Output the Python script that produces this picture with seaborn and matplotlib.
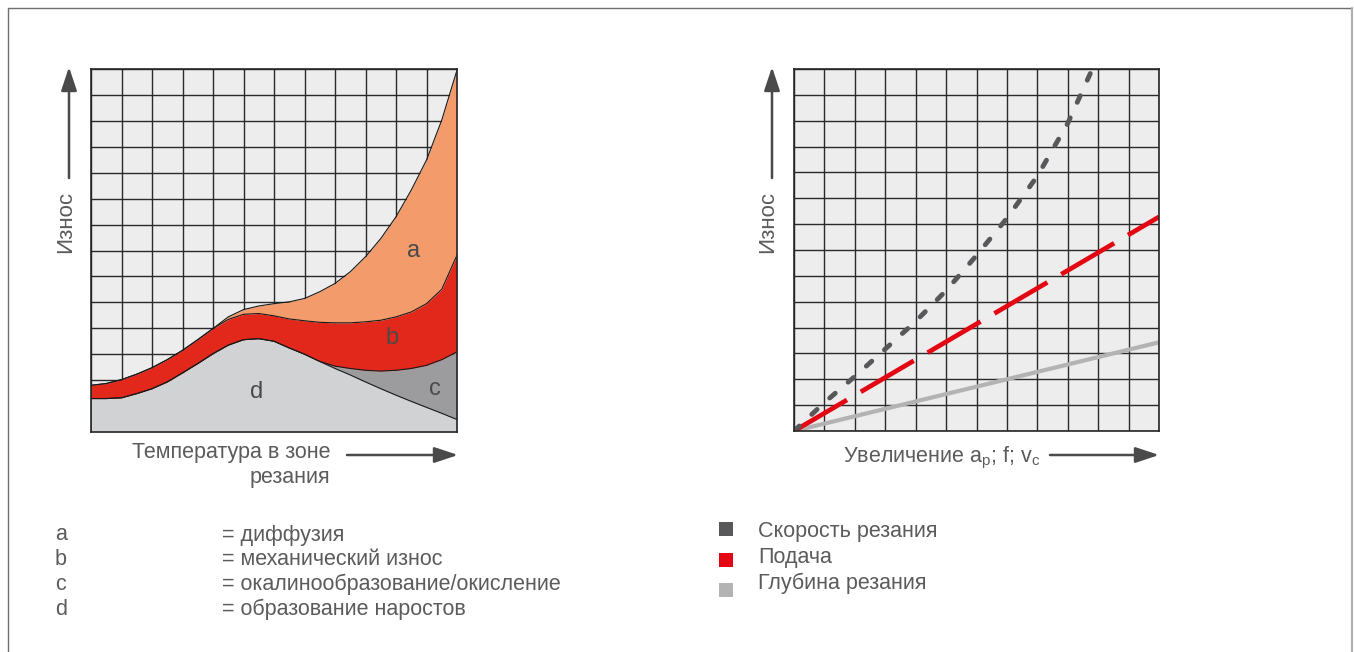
import numpy as np
import pandas as pd
import matplotlib
matplotlib.use("Agg")
import matplotlib.pyplot as plt
from matplotlib.lines import Line2D
import seaborn as sns

# ---------------- data ----------------
# Left chart: temperature (grid units) and boundary heights of stacked wear zones
temp = [0, 0.5, 1, 1.5, 2, 2.5, 3, 3.5, 4, 4.5, 5, 5.5, 6, 6.5, 7, 7.5, 8,
        8.5, 9, 9.5, 10, 10.5, 11, 11.5, 12]
d_top = [1.29, 1.29, 1.32, 1.48, 1.67, 1.93, 2.28, 2.64, 3.02, 3.35, 3.56, 3.60,
         3.50, 3.24, 3.00, 2.72, 2.45, 2.20, 1.93, 1.67, 1.42, 1.18, 0.95, 0.72, 0.48]
c_top = [1.29, 1.29, 1.32, 1.48, 1.67, 1.93, 2.28, 2.64, 3.02, 3.35, 3.56, 3.60,
         3.50, 3.24, 3.00, 2.72, 2.54, 2.45, 2.38, 2.35, 2.38, 2.45, 2.57, 2.79, 3.09]
b_top = [1.80, 1.87, 2.02, 2.23, 2.48, 2.79, 3.15, 3.56, 3.99, 4.34, 4.54, 4.57,
         4.48, 4.36, 4.29, 4.23, 4.21, 4.21, 4.25, 4.31, 4.44, 4.63, 4.95, 5.50, 6.82]
a_top = [1.80, 1.87, 2.02, 2.23, 2.48, 2.79, 3.15, 3.56, 3.99, 4.44, 4.72, 4.86,
         4.95, 5.02, 5.15, 5.41, 5.73, 6.18, 6.76, 7.46, 8.30, 9.33, 10.49, 12.03, 13.96]
zone_labels = ["a", "b", "c", "d"]
zone_names = ["= диффузия", "= механический износ",
              "= окалинообразование/окисление", "= образование наростов"]

# Right chart: wear vs increase of a_p, f, v_c
speed_x = [0, 1, 2, 3, 4, 5, 6, 7, 8, 9, 9.75]
speed_y = [0, 1.10, 2.11, 3.17, 4.24, 5.43, 6.79, 8.23, 9.86, 11.90, 13.85]
feed_x = [0, 12]
feed_y = [0, 8.28]
depth_x = [0, 12]
depth_y = [0, 3.43]
series_names = ["Скорость резания", "Подача", "Глубина резания"]

# ---------------- style ----------------
sns.set_theme(style="white")
plt.rcParams["font.family"] = ["Liberation Sans", "DejaVu Sans"]
plt.rcParams["mathtext.fontset"] = "custom"
plt.rcParams["mathtext.rm"] = "Liberation Sans"
plt.rcParams["mathtext.it"] = "Liberation Sans"

W, H = 1354, 652
TXT = "#5b5b5d"
GRID_BG = "#ecedec"
COL_A, COL_B, COL_C, COL_D = "#f39b6b", "#e2271b", "#9c9c9e", "#d1d2d4"
COL_SPEED, COL_FEED, COL_DEPTH = "#58585a", "#e30613", "#b3b3b3"
FS = 15.5

fig = plt.figure(figsize=(W / 100, H / 100), dpi=100)
fig.patch.set_facecolor("white")


def fx(px):
    return px / W


def fy(py):
    return 1 - py / H


def grid_axes(x0, x1, y0, y1):
    ax = fig.add_axes([fx(x0), fy(y1), fx(x1) - fx(x0), fy(y0) - fy(y1)])
    ax.set_facecolor(GRID_BG)
    ax.set_xlim(0, 12)
    ax.set_ylim(0, 14)
    ax.set_xticks(range(13))
    ax.set_yticks(range(15))
    ax.set_xticklabels([])
    ax.set_yticklabels([])
    ax.tick_params(length=0)
    ax.grid(True, color="#2a2a2a", lw=1.0)
    ax.set_axisbelow(True)
    for s in ax.spines.values():
        s.set_color("#262626")
        s.set_linewidth(1.2)
        s.set_visible(True)
    return ax


# ---------------- left chart ----------------
axL = grid_axes(91, 457, 69, 432)
t = np.array(temp)
axL.fill_between(t, 0, d_top, color=COL_D, lw=0)
axL.fill_between(t, d_top, c_top, color=COL_C, lw=0)
axL.fill_between(t, c_top, b_top, color=COL_B, lw=0)
axL.fill_between(t, b_top, a_top, color=COL_A, lw=0)
for arr in (d_top, c_top, b_top, a_top):
    sns.lineplot(x=temp, y=arr, ax=axL, color="#1a1a1a", lw=0.8, estimator=None,
                 sort=False)
lab_pos = {"a": (10.56, 6.98), "b": (9.87, 3.63), "c": (11.28, 1.66), "d": (5.44, 1.54)}
for k, (xx, yy) in lab_pos.items():
    axL.text(xx, yy, k, fontsize=17, color="#4a4a4a", ha="center", va="center")

# ---------------- right chart ----------------
axR = grid_axes(794, 1159, 69, 431)
sns.lineplot(x=depth_x, y=depth_y, ax=axR, color=COL_DEPTH, lw=3.0,
             estimator=None, sort=False, solid_capstyle="butt")
sns.lineplot(x=feed_x, y=feed_y, ax=axR, color=COL_FEED, lw=3.4,
             estimator=None, sort=False)
axR.lines[-1].set_dashes([13.0, 3.4])
axR.lines[-1].set_dash_capstyle("butt")
sns.lineplot(x=speed_x, y=speed_y, ax=axR, color=COL_SPEED, lw=3.5,
             estimator=None, sort=False)
axR.lines[-1].set_dashes([1.5, 3.5])
axR.lines[-1].set_dash_capstyle("round")

# ---------------- arrows & axis titles ----------------
def arrow(x0, y0, x1, y1):
    fig.add_artist(matplotlib.patches.FancyArrowPatch(
        (fx(x0), fy(y0)), (fx(x1), fy(y1)), transform=fig.transFigure,
        arrowstyle="-|>,head_length=1.2,head_width=0.4", mutation_scale=12,
        lw=1.8, color="#4a4a4a", shrinkA=0, shrinkB=0))


arrow(69, 178, 69, 67)
arrow(772, 178, 772, 67)
arrow(347, 455, 458, 455)
arrow(1050, 455, 1159, 455)

fig.text(fx(66), fy(222), "Износ", rotation=90, fontsize=FS + 0.5, color=TXT,
         ha="center", va="center")
fig.text(fx(768), fy(222), "Износ", rotation=90, fontsize=FS + 0.5, color=TXT,
         ha="center", va="center")
fig.text(fx(330), fy(465), "Температура в зоне\nрезания", fontsize=FS, color=TXT,
         ha="right", va="center", multialignment="right", linespacing=1.2)
fig.text(fx(843), fy(458), r"Увеличение a$_\mathregular{p}$; f; v$_\mathregular{c}$",
         fontsize=FS, color=TXT, ha="left", va="center")

# ---------------- legends ----------------
for i, (k, name) in enumerate(zip(zone_labels, zone_names)):
    yy = 535 + i * 24.7
    fig.text(fx(55), fy(yy), k, fontsize=FS, color=TXT, ha="left", va="center")
    fig.text(fx(222), fy(yy), name, fontsize=FS, color=TXT, ha="left", va="center")

sq_cols = [COL_SPEED, COL_FEED, COL_DEPTH]
sq_y = [529, 560, 590]
txt_y = [532, 557, 583]
for i, name in enumerate(series_names):
    fig.add_artist(matplotlib.patches.Rectangle(
        (fx(719), fy(sq_y[i] + 7)), 14 / W, 14 / H, transform=fig.transFigure,
        color=sq_cols[i], lw=0))
    fig.text(fx(758), fy(txt_y[i]), name, fontsize=FS, color=TXT, ha="left",
             va="center")

# ---------------- frame ----------------
fig.add_artist(Line2D([fx(8), fx(1352)], [fy(8), fy(8)], transform=fig.transFigure,
                      color="#6f6f6f", lw=1.0))
fig.add_artist(Line2D([fx(8), fx(8)], [fy(8), 0], transform=fig.transFigure,
                      color="#6f6f6f", lw=1.0))
fig.add_artist(Line2D([fx(1352), fx(1352)], [fy(8), 0], transform=fig.transFigure,
                      color="#b0b0b0", lw=1.6))

fig.savefig("out.png", dpi=100)
